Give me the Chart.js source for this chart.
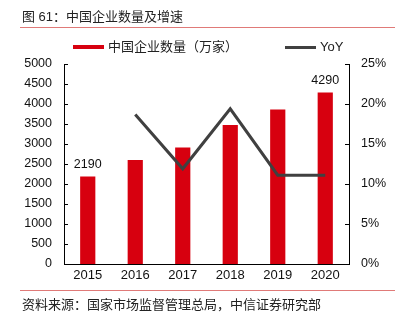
<!DOCTYPE html>
<html lang="zh">
<head>
    <meta charset="UTF-8">
    <title>中国企业数量及增速</title>
    <script src="https://cdn.jsdelivr.net/npm/chart.js"></script>
    <style>
        body {
            margin: 0;
            width: 410px;
            height: 325px;
            position: relative;
            background: #fff;
            font-family: "Liberation Sans", "Noto Sans CJK SC", sans-serif;
            color: #222;
            overflow: hidden;
        }
        .title {
            position: absolute;
            left: 22px;
            top: 8px;
            font-size: 13px;
            line-height: 18px;
        }
        .rule {
            position: absolute;
            left: 20px;
            width: 375px;
            height: 1px;
            background: #e07a78;
        }
        .legend {
            position: absolute;
            top: 38px;
            font-size: 13px;
            line-height: 18px;
        }
        .legend span.swatch {
            position: absolute;
            top: 7px;
            width: 31px;
            height: 4px;
        }
        .source {
            position: absolute;
            left: 22px;
            top: 296px;
            font-size: 13px;
            line-height: 18px;
        }
        #chartBox {
            position: absolute;
            left: 0;
            top: 0;
            width: 410px;
            height: 325px;
        }
    </style>
</head>
<body>
    <div id="chartBox"><canvas id="firmChart"></canvas></div>

    <div class="title">图 61：中国企业数量及增速</div>
    <div class="rule" style="top: 27px;"></div>

    <div class="legend" style="left: 73px;">
        <span class="swatch" style="left: 0; background: #d7000f;"></span>
        <span style="position: absolute; left: 35px; white-space: nowrap;">中国企业数量（万家）</span>
    </div>
    <div class="legend" style="left: 285px;">
        <span class="swatch" style="left: 0; height: 3px; top: 8px; background: #404040;"></span>
        <span style="position: absolute; left: 35px;">YoY</span>
    </div>

    <div class="rule" style="top: 290px;"></div>
    <div class="source">资料来源：国家市场监督管理总局，中信证券研究部</div>

    <script>
        const years = ['2015', '2016', '2017', '2018', '2019', '2020'];
        const firmCount = [2190, 2600, 2910, 3475, 3860, 4290];   // 万家
        const yoyPct = [null, 18.7, 11.9, 19.4, 11.1, 11.1];       // %
        const labelledBars = [0, 5];

        // short tick marks pointing into the plot on both value axes
        const innerTicks = {
            id: 'innerTicks',
            afterDraw(chart) {
                const ctx = chart.ctx;
                ctx.save();
                ctx.strokeStyle = '#000';
                ctx.lineWidth = 1;
                ['y', 'y1'].forEach(id => {
                    const scale = chart.scales[id];
                    const x = id === 'y' ? scale.right : scale.left;
                    const dir = id === 'y' ? 1 : -1;
                    scale.ticks.forEach(t => {
                        const py = Math.round(scale.getPixelForValue(t.value)) + 0.5;
                        ctx.beginPath();
                        ctx.moveTo(x, py);
                        ctx.lineTo(x + dir * 4, py);
                        ctx.stroke();
                    });
                });
                ctx.restore();
            }
        };

        // value text above the first and last bars (bars are dataset 1)
        const barValues = {
            id: 'barValues',
            afterDatasetsDraw(chart) {
                const ctx = chart.ctx;
                const meta = chart.getDatasetMeta(1);
                ctx.save();
                ctx.fillStyle = '#111';
                ctx.font = '12.5px "Liberation Sans", sans-serif';
                ctx.textAlign = 'center';
                ctx.textBaseline = 'bottom';
                labelledBars.forEach(i => {
                    const bar = meta.data[i];
                    ctx.fillText(String(firmCount[i]), bar.x, bar.y - 6);
                });
                ctx.restore();
            }
        };

        const ctx = document.getElementById('firmChart').getContext('2d');
        new Chart(ctx, {
            data: {
                labels: years,
                datasets: [
                    {
                        type: 'line',
                        label: 'YoY',
                        data: yoyPct,
                        yAxisID: 'y1',
                        borderColor: '#404040',
                        borderWidth: 3,
                        pointRadius: 0,
                        tension: 0,
                        order: 0
                    },
                    {
                        type: 'bar',
                        label: '中国企业数量（万家）',
                        data: firmCount,
                        yAxisID: 'y',
                        backgroundColor: '#d7000f',
                        barPercentage: 0.32,
                        categoryPercentage: 1,
                        order: 1
                    }
                ]
            },
            options: {
                responsive: true,
                maintainAspectRatio: false,
                animation: false,
                layout: {
                    padding: { top: 64, bottom: 40, left: 0, right: 0 }
                },
                plugins: {
                    legend: { display: false },
                    tooltip: { enabled: false }
                },
                scales: {
                    x: {
                        offset: true,
                        grid: { display: false, drawTicks: false },
                        border: { color: '#000', width: 1 },
                        ticks: {
                            color: '#111',
                            padding: 4,
                            font: { family: '"Liberation Sans", sans-serif', size: 13 }
                        },
                        afterFit(scale) { scale.height = 21; }
                    },
                    y: {
                        position: 'left',
                        min: 0,
                        max: 5000,
                        grid: { display: false, drawTicks: false },
                        border: { color: '#000', width: 1 },
                        ticks: {
                            stepSize: 500,
                            color: '#111',
                            padding: 12,
                            font: { family: '"Liberation Sans", sans-serif', size: 12.5 },
                            callback: v => String(v)
                        },
                        afterFit(scale) { scale.width = 64; }
                    },
                    y1: {
                        position: 'right',
                        min: 0,
                        max: 25,
                        grid: { display: false, drawTicks: false },
                        border: { color: '#000', width: 1 },
                        ticks: {
                            stepSize: 5,
                            color: '#111',
                            padding: 12,
                            font: { family: '"Liberation Sans", sans-serif', size: 12.5 },
                            callback: v => v + '%'
                        },
                        afterFit(scale) { scale.width = 61; }
                    }
                }
            },
            plugins: [innerTicks, barValues]
        });
    </script>
</body>
</html>
